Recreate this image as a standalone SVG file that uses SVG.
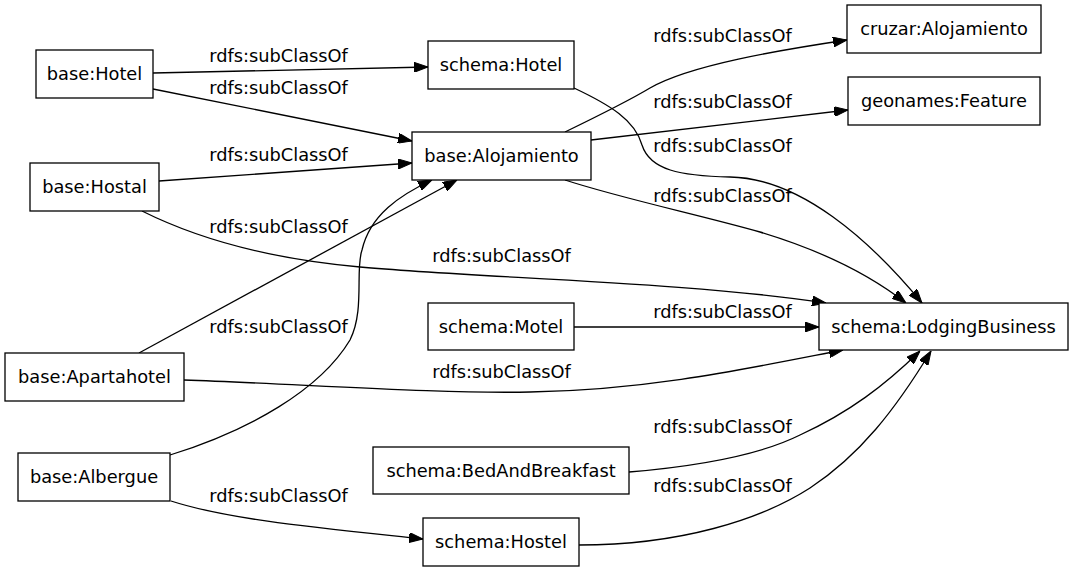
<svg xmlns="http://www.w3.org/2000/svg" width="1075" height="572" viewBox="0 0 1075 572">
<style>
.node rect{fill:#fff;stroke:#000;stroke-width:1.3}
text{font-family:"DejaVu Sans",sans-serif;font-size:17.8px;fill:#000;text-anchor:middle}
.edges path{fill:none;stroke:#000;stroke-width:1.3;marker-end:url(#arr)}
</style>
<defs>
<marker id="arr" markerUnits="userSpaceOnUse" markerWidth="14" markerHeight="10" refX="14" refY="5" orient="auto">
<path d="M0,0 L14,5 L0,10 z" fill="#000" stroke="#000" stroke-width="1"/>
</marker>
</defs>
<rect width="1075" height="572" fill="#fff"/>
<g class="edges">
<path d="M153,73 L428,67"/>
<path d="M153,89 L412,141"/>
<path d="M159,181 L412,163"/>
<path d="M142,211 C190,235 260,258 360,267 C480,278 690,282 826,303"/>
<path d="M139,353 L457,180"/>
<path d="M170,455 C250,430 320,390 350,340 C365,310 355,270 362,250 C370,215 400,195 432,180"/>
<path d="M184,380 C300,384 440,394 530,392 C650,390 750,368 843,350"/>
<path d="M574,327 L819,327"/>
<path d="M629,472 C700,466 760,455 800,435 C850,412 885,385 920,351"/>
<path d="M579,545 C680,545 760,520 810,488 C860,455 895,410 931,351"/>
<path d="M171,501 C230,520 320,528 423,539"/>
<path d="M565,132 C600,115 630,100 650,88 C690,65 780,50 847,40"/>
<path d="M591,140 L848,110"/>
<path d="M574,88 C610,105 635,120 642,145 C650,170 680,176 730,177 C800,178 870,240 922,303"/>
<path d="M565,180 C620,198 700,215 760,232 C820,250 870,275 906,303"/>
</g>
<g class="labels">
<text x="278.5" y="62">rdfs:subClassOf</text>
<text x="278.5" y="94">rdfs:subClassOf</text>
<text x="278.5" y="161">rdfs:subClassOf</text>
<text x="501.5" y="262">rdfs:subClassOf</text>
<text x="278.5" y="233">rdfs:subClassOf</text>
<text x="278.5" y="333">rdfs:subClassOf</text>
<text x="501.5" y="378">rdfs:subClassOf</text>
<text x="722.5" y="318">rdfs:subClassOf</text>
<text x="278.5" y="502">rdfs:subClassOf</text>
<text x="722.5" y="433">rdfs:subClassOf</text>
<text x="722.5" y="492">rdfs:subClassOf</text>
<text x="722.5" y="42">rdfs:subClassOf</text>
<text x="722.5" y="108">rdfs:subClassOf</text>
<text x="722.5" y="152">rdfs:subClassOf</text>
<text x="722.5" y="202">rdfs:subClassOf</text>
</g>
<g id="base_Hotel" class="node"><rect x="36" y="50" width="117" height="48"/><text x="94.5" y="80">base:Hotel</text></g>
<g id="base_Hostal" class="node"><rect x="30" y="163" width="129" height="48"/><text x="94.5" y="193">base:Hostal</text></g>
<g id="schema_Hotel" class="node"><rect x="428" y="41" width="146" height="48"/><text x="501" y="71">schema:Hotel</text></g>
<g id="base_Alojamiento" class="node"><rect x="412" y="132" width="179" height="48"/><text x="501.5" y="162">base:Alojamiento</text></g>
<g id="cruzar_Alojamiento" class="node"><rect x="847" y="5" width="194" height="48"/><text x="944" y="35">cruzar:Alojamiento</text></g>
<g id="geonames_Feature" class="node"><rect x="848" y="77" width="192" height="48"/><text x="944" y="107">geonames:Feature</text></g>
<g id="base_Apartahotel" class="node"><rect x="5" y="353" width="179" height="48"/><text x="94.5" y="383">base:Apartahotel</text></g>
<g id="schema_Motel" class="node"><rect x="428" y="303" width="146" height="47"/><text x="501" y="333">schema:Motel</text></g>
<g id="schema_LodgingBusiness" class="node"><rect x="819" y="303" width="249" height="47"/><text x="943.5" y="333">schema:LodgingBusiness</text></g>
<g id="base_Albergue" class="node"><rect x="18" y="453" width="152" height="48"/><text x="94" y="483">base:Albergue</text></g>
<g id="schema_BedAndBreakfast" class="node"><rect x="373" y="447" width="256" height="47"/><text x="501" y="477">schema:BedAndBreakfast</text></g>
<g id="schema_Hostel" class="node"><rect x="423" y="518" width="156" height="48"/><text x="501" y="548">schema:Hostel</text></g>
</svg>
